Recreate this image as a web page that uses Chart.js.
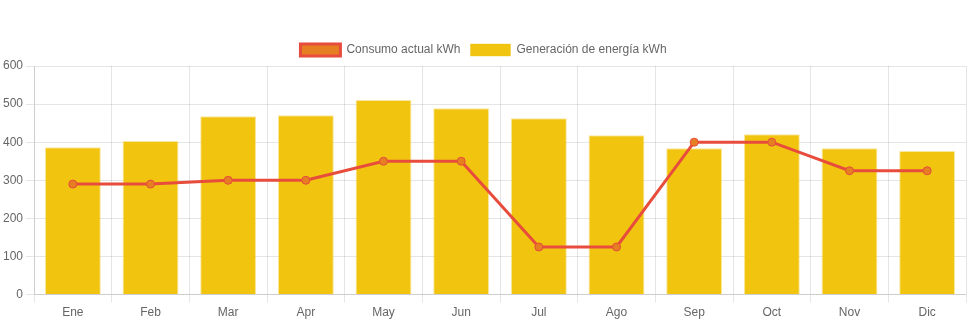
<!DOCTYPE html>
<html>
<head>
<meta charset="utf-8">
<script src="https://cdn.jsdelivr.net/npm/chart.js@4/dist/chart.umd.min.js"></script>
<style>
html,body{margin:0;padding:0;background:#fff;}
#wrap{width:971px;height:323px;position:relative;}
</style>
</head>
<body>
<div id="wrap"><canvas id="c"></canvas></div>
<script>
const categories = ['Ene','Feb','Mar','Apr','May','Jun','Jul','Ago','Sep','Oct','Nov','Dic'];
const consumo = [290, 290, 300, 300, 350, 350, 125, 125, 400, 400, 325, 325];
const generacion = [387, 403, 468, 471, 511, 489, 463, 418, 384, 421, 384, 377];
const yTicks = [0, 100, 200, 300, 400, 500, 600];

Chart.defaults.font.family = '"Liberation Sans", Arial, Helvetica, sans-serif';
Chart.defaults.color = '#666';

new Chart(document.getElementById('c'), {
  type: 'bar',
  data: {
    labels: categories,
    datasets: [
      {
        type: 'line',
        label: 'Consumo actual kWh',
        data: consumo,
        borderColor: '#e74c3c',
        backgroundColor: '#e67e22',
        borderWidth: 3,
        pointRadius: 4,
        pointBackgroundColor: '#e67e22',
        pointBorderColor: '#e74c3c',
        pointBorderWidth: 1,
        tension: 0,
        fill: false
      },
      {
        type: 'bar',
        label: 'Generación de energía kWh',
        data: generacion,
        backgroundColor: '#f1c40f',
        borderColor: 'rgba(241,196,15,0.4)',
        borderWidth: 1,
        categoryPercentage: 0.8,
        barPercentage: 0.9
      }
    ]
  },
  options: {
    responsive: true,
    maintainAspectRatio: false,
    animation: false,
    layout: { padding: { top: 34, right: 4 } },
    plugins: {
      legend: { labels: { boxWidth: 40, font: { size: 12 } } },
      tooltip: { enabled: false }
    },
    scales: {
      x: { grid: { color: 'rgba(0,0,0,0.1)' }, ticks: { font: { size: 12 } } },
      y: {
        min: 0, max: 600,
        afterBuildTicks: (ax) => { ax.ticks = yTicks.map(v => ({ value: v })); },
        grid: { color: 'rgba(0,0,0,0.1)' },
        ticks: { font: { size: 12 } }
      }
    }
  }
});
</script>
</body>
</html>
